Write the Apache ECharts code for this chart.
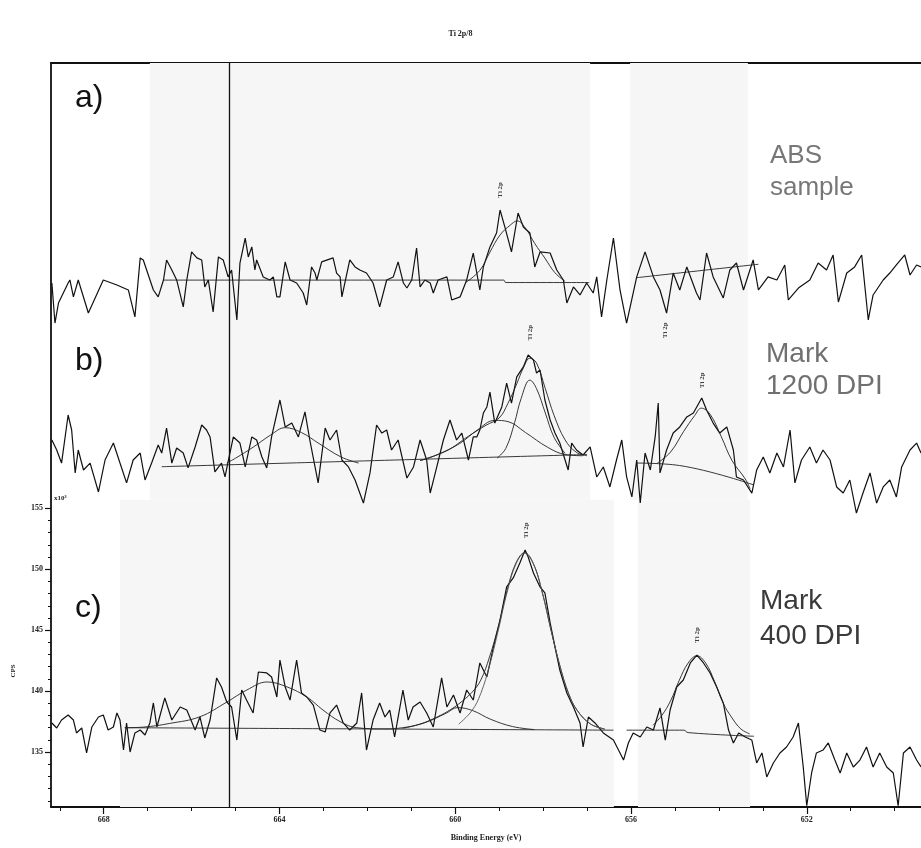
<!DOCTYPE html>
<html><head><meta charset="utf-8">
<script src="https://cdn.jsdelivr.net/npm/echarts@6/dist/echarts.min.js"></script>
<style>html,body{margin:0;padding:0;background:#fff}#c{width:921px;height:848px}</style>
</head><body><div id="c"></div>
<script>
// ---------- data (Binding energy eV, CPS x10^3 on the c) scale; a) and b) are offset copies) ----------
const xTickLabels = [652, 656, 660, 664, 668];
const xMinorTicks = [650,651,652,653,654,655,656,657,658,659,660,661,662,663,664,665,666,667,668,669];
const yTickLabels = [135, 140, 145, 150, 155];
const yMinorTicks = [131,132,133,134,135,136,137,138,139,140,141,142,143,144,145,146,147,148,149,150,151,152,153,154,155];

const traceA = [[669.18,173.46],[669.11,170.18],[669.03,171.82],[668.81,173.46],[668.77,173.71],[668.69,172.32],[668.58,173.71],[668.35,171.00],[668.01,173.71],[667.70,173.30],[667.44,172.89],[667.29,170.68],[667.17,175.52],[667.10,175.35],[666.87,172.89],[666.76,172.32],[666.64,173.71],[666.57,175.35],[666.45,174.53],[666.34,173.71],[666.19,171.50],[666.11,173.71],[666.00,176.01],[665.88,175.52],[665.77,175.35],[665.70,173.14],[665.62,173.71],[665.51,171.09],[665.39,175.60],[665.28,175.35],[665.17,173.96],[665.09,174.53],[664.97,170.43],[664.90,175.10],[664.78,177.15],[664.71,175.60],[664.63,176.42],[664.56,174.53],[664.52,175.35],[664.37,173.96],[664.22,173.71],[664.14,173.96],[664.06,172.32],[663.99,172.32],[663.87,175.19],[663.76,173.71],[663.61,173.46],[663.46,172.64],[663.38,171.66],[663.27,174.78],[663.19,174.28],[663.15,173.71],[663.04,175.19],[662.78,175.52],[662.70,174.28],[662.62,173.96],[662.58,172.32],[662.40,175.35],[662.28,174.78],[662.17,174.53],[662.02,174.28],[661.87,173.46],[661.72,171.50],[661.56,173.71],[661.41,173.96],[661.30,175.19],[661.18,173.46],[661.10,173.05],[660.99,173.71],[660.88,176.33],[660.80,173.14],[660.69,173.71],[660.57,173.46],[660.50,172.64],[660.39,173.71],[660.19,173.96],[660.08,172.07],[659.89,172.32],[659.74,173.71],[659.59,175.92],[659.44,172.89],[659.36,174.78],[659.21,176.42],[659.06,177.56],[658.98,179.45],[658.87,178.05],[658.72,176.01],[658.57,179.20],[658.45,178.05],[658.30,177.56],[658.19,174.78],[658.07,176.01],[657.84,175.92],[657.69,174.53],[657.54,173.71],[657.46,171.82],[657.31,173.14],[657.16,172.48],[657.01,173.46],[656.86,172.64],[656.78,173.96],[656.67,170.68],[656.55,173.71],[656.40,177.15],[656.25,172.89],[656.10,170.18],[655.87,173.96],[655.68,176.01],[655.49,173.96],[655.34,172.89],[655.19,171.00],[655.04,174.28],[654.89,172.89],[654.73,174.78],[654.51,172.64],[654.43,172.07],[654.28,175.92],[654.13,173.96],[653.90,172.24],[653.75,174.53],[653.60,175.10],[653.44,172.89],[653.22,175.35],[653.10,172.89],[652.88,173.96],[652.68,173.71],[652.50,174.94],[652.42,172.07],[652.19,173.05],[651.93,173.71],[651.74,175.10],[651.55,174.53],[651.40,175.76],[651.28,171.90],[651.09,174.28],[650.91,174.78],[650.75,175.76],[650.60,170.43],[650.49,172.48],[650.26,173.71],[650.11,174.28],[649.96,174.94],[649.77,175.76],[649.65,174.12],[649.50,174.94],[649.40,174.78]];
const envA = [[659.76,173.5],[659.44,174.5],[659.21,176.0],[658.98,177.4],[658.75,178.2],[658.59,178.55],[658.41,178.0],[658.19,176.7],[657.96,175.5],[657.73,174.3],[657.5,173.6]];
const baseA1 = [[666.64,173.7],[658.9,173.7],[658.85,173.5],[656.95,173.5]];
const baseA2 = [[655.87,173.9],[653.1,175.0]];

const traceB = [[669.18,160.59],[669.07,159.77],[668.96,158.70],[668.81,162.64],[668.73,161.41],[668.65,157.89],[668.58,159.77],[668.46,158.13],[668.31,158.70],[668.12,156.33],[667.97,158.95],[667.78,160.34],[667.63,158.70],[667.48,157.07],[667.33,158.95],[667.17,159.52],[667.06,157.31],[666.91,158.70],[666.76,160.18],[666.68,159.52],[666.57,161.57],[666.45,158.70],[666.34,159.93],[666.19,159.52],[666.08,158.30],[665.92,160.02],[665.77,161.82],[665.66,161.41],[665.58,160.84],[665.47,157.97],[665.32,158.70],[665.24,157.56],[665.17,158.79],[665.05,160.84],[664.90,160.34],[664.78,158.38],[664.63,160.84],[664.52,160.59],[664.40,159.20],[664.29,158.30],[664.18,160.84],[663.99,163.87],[663.87,161.66],[663.72,161.98],[663.57,160.84],[663.42,162.89],[663.31,160.59],[663.12,157.07],[662.96,161.57],[662.85,160.59],[662.70,161.41],[662.58,158.95],[662.43,158.38],[662.28,157.31],[662.09,155.42],[661.94,157.89],[661.79,161.82],[661.67,161.16],[661.56,161.41],[661.45,159.77],[661.30,160.59],[661.10,157.47],[660.95,158.38],[660.80,160.59],[660.65,158.95],[660.57,156.24],[660.42,158.38],[660.27,160.59],[660.12,162.23],[659.97,160.59],[659.85,161.16],[659.70,158.95],[659.59,160.84],[659.51,160.84],[659.44,161.41],[659.36,162.80],[659.28,163.30],[659.21,164.52],[659.10,161.98],[658.94,163.30],[658.83,165.26],[658.72,163.62],[658.60,165.76],[658.45,166.58],[658.34,167.56],[658.22,167.15],[658.15,166.08],[658.07,166.33],[657.96,163.87],[657.84,162.23],[657.73,161.16],[657.62,160.34],[657.43,158.13],[657.35,160.34],[657.24,159.77],[657.09,159.36],[656.93,160.02],[656.78,157.56],[656.63,158.38],[656.48,156.74],[656.33,158.95],[656.21,160.59],[656.10,157.56],[655.98,155.92],[655.87,158.95],[655.79,155.42],[655.68,159.52],[655.56,158.13],[655.45,160.84],[655.38,163.62],[655.34,157.89],[655.19,159.77],[655.04,161.16],[654.89,161.66],[654.73,162.48],[654.58,162.80],[654.39,164.03],[654.28,163.05],[654.13,161.98],[653.98,161.16],[653.82,161.66],[653.67,159.77],[653.60,157.56],[653.44,157.31],[653.25,156.24],[653.14,158.13],[652.99,159.20],[652.84,157.89],[652.68,159.52],[652.53,158.38],[652.38,161.41],[652.27,157.07],[652.12,158.95],[651.93,160.02],[651.78,158.70],[651.63,159.77],[651.47,158.95],[651.32,156.74],[651.17,156.24],[651.02,157.31],[650.87,154.60],[650.72,156.24],[650.56,157.89],[650.41,155.42],[650.26,156.74],[650.11,157.31],[649.96,155.92],[649.84,158.38],[649.65,159.77],[649.50,160.34],[649.40,159.52]];
const compB1 = [[665.2,158.7],[665.0,159.1],[664.6,160.0],[664.2,161.0],[663.87,161.6],[663.5,161.2],[663.1,160.3],[662.6,159.2],[662.2,158.7]];
const compB2 = [[660.8,158.9],[660.4,159.4],[659.9,160.3],[659.5,161.4],[659.1,162.2],[658.8,162.1],[658.4,161.2],[657.9,160.0],[657.5,159.4],[657.1,159.3]];
const compB3 = [[659.05,159.1],[658.85,159.9],[658.65,162.0],[658.5,164.0],[658.3,165.5],[658.15,164.8],[657.95,162.8],[657.75,160.8],[657.5,159.5]];
const envB1 = [[660.8,158.9],[660.2,159.7],[659.7,160.9],[659.3,161.8],[659.0,162.4],[658.8,163.6],[658.6,165.2],[658.45,166.5],[658.3,167.3],[658.15,166.9],[657.95,164.8],[657.75,162.6],[657.5,160.6],[657.25,159.6],[657.0,159.3]];
const envB2 = [[655.4,158.7],[655.1,159.6],[654.8,161.3],[654.55,162.6],[654.4,163.2],[654.2,162.7],[653.95,160.9],[653.7,158.9],[653.4,157.4],[653.29,156.6]];
const baseB1 = [[666.68,158.4],[657.0,159.4]];
const baseB2 = [[655.87,158.7],[654.9,158.5],[653.2,156.9]];

const traceC = [[669.18,137.39],[669.07,136.98],[668.96,137.63],[668.81,138.04],[668.69,137.63],[668.62,136.57],[668.50,136.98],[668.39,134.93],[668.27,137.06],[668.12,137.88],[668.01,138.04],[667.90,136.81],[667.78,137.06],[667.70,138.21],[667.63,137.63],[667.55,135.17],[667.48,137.39],[667.40,135.01],[667.29,136.57],[667.17,136.81],[667.06,136.40],[666.95,137.39],[666.87,139.03],[666.79,137.06],[666.61,139.44],[666.45,137.63],[666.26,138.70],[666.11,138.45],[665.92,136.81],[665.81,137.88],[665.70,136.16],[665.58,137.63],[665.43,141.08],[665.32,140.34],[665.20,139.11],[665.09,138.70],[664.97,135.99],[664.86,140.09],[664.75,139.27],[664.60,138.21],[664.48,141.57],[664.29,141.49],[664.18,141.16],[664.06,139.52],[663.99,142.55],[663.87,140.34],[663.76,139.27],[663.61,142.55],[663.50,139.85],[663.38,139.52],[663.23,138.86],[663.08,136.81],[662.96,136.65],[662.85,138.21],[662.70,138.86],[662.55,137.39],[662.40,136.81],[662.24,137.39],[662.13,139.85],[662.02,135.17],[661.87,137.63],[661.72,139.03],[661.60,137.88],[661.49,138.45],[661.38,136.24],[661.19,140.09],[661.07,137.63],[660.96,138.70],[660.80,139.11],[660.65,138.21],[660.50,137.06],[660.31,141.08],[660.19,138.70],[660.04,139.68],[659.89,138.21],[659.74,140.09],[659.59,139.27],[659.44,142.31],[659.28,141.16],[659.13,143.62],[658.98,145.83],[658.83,148.54],[658.68,149.28],[658.53,150.51],[658.41,151.57],[658.34,151.0],[658.22,149.69],[658.07,148.54],[657.96,148.05],[657.84,145.59],[657.73,143.62],[657.62,141.73],[657.46,139.85],[657.31,138.70],[657.16,137.39],[657.09,135.42],[656.97,137.88],[656.82,137.39],[656.63,136.57],[656.40,135.99],[656.25,134.93],[656.17,134.35],[656.06,135.75],[655.95,136.57],[655.79,136.24],[655.64,137.06],[655.49,136.81],[655.34,138.62],[655.22,135.99],[655.11,138.45],[654.96,140.34],[654.81,140.91],[654.65,142.31],[654.50,142.96],[654.35,142.31],[654.20,141.49],[654.05,140.34],[653.90,139.03],[653.78,136.81],[653.67,135.75],[653.55,136.57],[653.40,136.24],[653.25,135.99],[653.14,134.11],[653.02,134.93],[652.91,132.96],[652.76,134.11],[652.61,134.93],[652.46,135.42],[652.31,136.24],[652.19,137.39],[652.08,133.78],[652.00,130.6],[651.89,133.29],[651.78,134.93],[651.63,135.17],[651.51,135.75],[651.36,134.35],[651.24,133.29],[651.09,134.93],[650.94,133.78],[650.79,134.35],[650.64,135.42],[650.49,133.78],[650.34,134.93],[650.18,133.78],[650.03,133.29],[649.92,130.6],[649.80,134.93],[649.65,135.42],[649.50,134.35],[649.40,133.78]];
const envC1 = [[667.52,137.0],[667.1,137.05],[666.5,137.35],[665.81,137.9],[665.2,139.1],[664.74,140.1],[664.28,140.75],[663.83,140.35],[663.37,139.5],[663.01,138.45],[662.62,137.5],[662.24,137.0],[661.6,136.9],[661.2,137.0],[660.8,137.3],[660.4,137.9],[660.1,138.5],[659.92,138.95],[659.62,139.9],[659.42,140.9],[659.22,142.8],[659.02,145.3],[658.82,148.25],[658.62,150.5],[658.42,151.35],[658.22,150.45],[658.02,148.1],[657.82,145.0],[657.62,142.1],[657.42,139.8],[657.22,138.4],[656.92,137.3],[656.6,136.9]];
const compC2 = [[661.2,136.95],[660.7,137.4],[660.2,138.2],[659.95,138.65],[659.6,138.4],[659.2,137.7],[658.7,137.1],[658.2,136.85]];
const compC3 = [[659.92,137.3],[659.62,138.4],[659.42,139.8],[659.22,142.1],[659.02,145.0],[658.82,148.1],[658.62,150.4],[658.42,151.3],[658.22,150.4],[658.02,148.1],[657.82,145.0],[657.62,142.1],[657.42,139.8],[657.22,138.4],[656.92,137.3],[656.6,136.9]];
const envC2 = [[655.5,137.2],[655.3,138.0],[655.1,139.2],[654.9,140.9],[654.7,142.3],[654.5,142.9],[654.3,142.3],[654.1,140.8],[653.9,139.0],[653.7,137.8],[653.5,136.9],[653.3,136.5]];
const baseC1 = [[667.52,137.0],[656.4,136.8]];
const baseC2 = [[656.1,136.8],[654.8,136.8],[654.7,136.6],[653.2,136.3]];

const peakLabels = [[658.98,181.1],[655.23,169.6],[658.30,169.4],[654.38,165.5],[658.39,153.2],[654.50,144.6]];
const cursorEnergy = 665.15;
const bandsUpper = [[666.95,656.93],[656.02,653.34]];
const bandsLower = [[667.63,656.39],[655.84,653.29]];
const panelSplit = 155.7;

// ---------- chart ----------
const X_MIN = 649.4, X_MAX = 669.2, Y_MIN = 130.5, Y_MAX = 191.5;
const axisFont = {fontFamily:'Liberation Serif', fontSize:8, fontWeight:'bold', color:'#222'};
const lineS = (data, w, c) => ({type:'line', data, showSymbol:false, symbol:'none', smooth:false,
  lineStyle:{width:w||1, color:c||'#111'}, xAxisIndex:0, yAxisIndex:0, silent:true, z:3});
const fitS = (data, w, c) => Object.assign(lineS(data, w||0.9, c||'#222'), {smooth:0.4, z:4});

const areas = [];
bandsUpper.forEach(b => areas.push([{xAxis:b[0], yAxis:panelSplit}, {xAxis:b[1], yAxis:Y_MAX}]));
bandsLower.forEach(b => areas.push([{xAxis:b[0], yAxis:Y_MIN}, {xAxis:b[1], yAxis:panelSplit}]));

const chart = echarts.init(document.getElementById('c'), null, {renderer:'canvas'});
chart.setOption({
  animation:false,
  backgroundColor:'#fff',
  title:{text:'Ti 2p/8', left:'center', top:25, textStyle:{fontFamily:'Liberation Serif', fontSize:8, fontWeight:'bold', color:'#222'}},
  grid:{left:51, right:0, top:63, bottom:41, containLabel:false},
  xAxis:[
    {type:'value', inverse:true, min:X_MIN, max:X_MAX, position:'bottom',
     axisLine:{show:true, lineStyle:{color:'#111', width:1.8}},
     axisTick:{show:true, customValues:xTickLabels, length:7, lineStyle:{color:'#111', width:1.2}},
     axisLabel:Object.assign({show:true, customValues:xTickLabels, margin:9}, axisFont),
     splitLine:{show:false},
     name:'Binding Energy (eV)', nameLocation:'middle', nameGap:27, nameTextStyle:axisFont},
    {type:'value', inverse:true, min:X_MIN, max:X_MAX, position:'bottom',
     axisLine:{show:false}, axisTick:{show:true, customValues:xMinorTicks, length:4, lineStyle:{color:'#111', width:1}},
     axisLabel:{show:false}, splitLine:{show:false}},
    {type:'value', inverse:true, min:X_MIN, max:X_MAX, position:'top',
     axisLine:{show:true, lineStyle:{color:'#111', width:2}}, axisTick:{show:false}, axisLabel:{show:false}, splitLine:{show:false}}
  ],
  yAxis:[
    {type:'value', min:Y_MIN, max:Y_MAX, position:'left',
     axisLine:{show:true, lineStyle:{color:'#111', width:1.8}},
     axisTick:{show:true, customValues:yTickLabels, length:6, lineStyle:{color:'#111', width:1.2}},
     axisLabel:Object.assign({show:true, customValues:yTickLabels, margin:8}, axisFont),
     splitLine:{show:false}},
    {type:'value', min:Y_MIN, max:Y_MAX, position:'left',
     axisLine:{show:false}, axisTick:{show:true, customValues:yMinorTicks, length:3, lineStyle:{color:'#111', width:1}},
     axisLabel:{show:false}, splitLine:{show:false}}
  ],
  series:[
    {type:'line', data:[], xAxisIndex:0, yAxisIndex:0, silent:true, z:1,
     markArea:{silent:true, itemStyle:{color:'#f6f6f6'}, data:areas},
     markLine:{silent:true, symbol:'none', label:{show:false}, lineStyle:{color:'#111', width:1.3, type:'solid'},
       data:[{xAxis:cursorEnergy}]}},
    lineS(traceA, 1.2), fitS(envA), fitS(baseA1), fitS(baseA2),
    lineS(traceB, 1.2), fitS(compB1), fitS(compB2), fitS(compB3), fitS(envB1), fitS(envB2), fitS(baseB1), fitS(baseB2),
    lineS(traceC, 1.2), fitS(envC1), fitS(compC2), fitS(compC3, 0.9, '#555'), fitS(envC2), fitS(baseC1), fitS(baseC2),
    {type:'scatter', data:peakLabels, symbolSize:0, silent:true, z:6, xAxisIndex:0, yAxisIndex:0,
     label:{show:true, position:'inside', formatter:'Ti 2p', rotate:90, fontFamily:'Liberation Serif', fontSize:7, fontWeight:'bold', color:'#111'}}
  ],
  graphic:[
    {type:'text', left:75, top:101-19, style:{text:'a)', font:'32px "Liberation Sans"', fill:'#111'}},
    {type:'text', left:75, top:364-19, style:{text:'b)', font:'32px "Liberation Sans"', fill:'#111'}},
    {type:'text', left:75, top:611-19, style:{text:'c)', font:'32px "Liberation Sans"', fill:'#111'}},
    {type:'text', left:770, top:143, style:{text:'ABS', font:'26px "Liberation Sans"', fill:'#777'}},
    {type:'text', left:770, top:175, style:{text:'sample', font:'26px "Liberation Sans"', fill:'#777'}},
    {type:'text', left:766, top:340, style:{text:'Mark', font:'28px "Liberation Sans"', fill:'#707070'}},
    {type:'text', left:766, top:372, style:{text:'1200 DPI', font:'28px "Liberation Sans"', fill:'#707070'}},
    {type:'text', left:760, top:587, style:{text:'Mark', font:'28px "Liberation Sans"', fill:'#3a3a3a'}},
    {type:'text', left:760, top:622, style:{text:'400 DPI', font:'28px "Liberation Sans"', fill:'#3a3a3a'}},
    {type:'text', left:54, top:495, style:{text:'x10³', font:'bold 7px "Liberation Serif"', fill:'#222'}},
    {type:'text', x:13, y:671, rotation:Math.PI/2, style:{text:'CPS', font:'bold 7px "Liberation Serif"', fill:'#222', textAlign:'center', textVerticalAlign:'middle'}}
  ]
});
</script></body></html>
